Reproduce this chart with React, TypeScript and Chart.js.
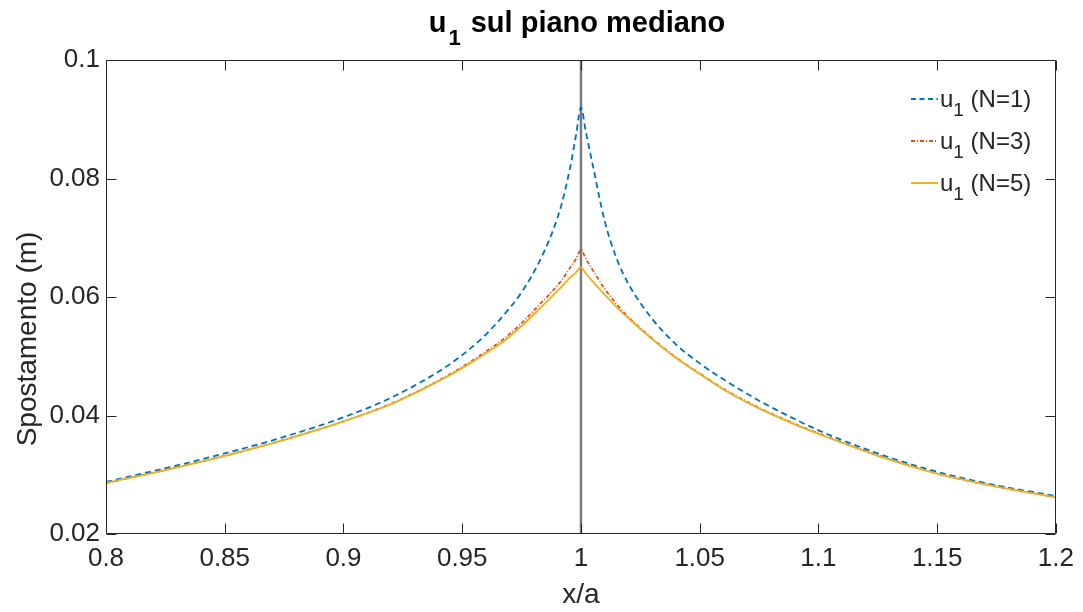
import React, { useEffect, useRef } from 'react';
import { Chart, registerables } from 'chart.js';

Chart.register(...registerables);

// ---- data ----
const xValues = [
  0.8, 0.825, 0.85, 0.875, 0.9, 0.92, 0.94, 0.95, 0.96, 0.968, 0.975, 0.982, 0.988, 0.992, 0.9955, 0.998, 1.0,
  1.002, 1.005, 1.01, 1.015, 1.02, 1.03, 1.04, 1.05, 1.06, 1.075, 1.09, 1.1, 1.125, 1.15, 1.175, 1.2,
];
const uN1 = [
  0.0288, 0.0311, 0.0336, 0.0364, 0.0397, 0.043, 0.0474, 0.0502, 0.0537, 0.0572, 0.0608, 0.0656, 0.071, 0.0759, 0.082, 0.0875, 0.092,
  0.088, 0.0822, 0.0728, 0.0665, 0.0622, 0.0563, 0.052, 0.0488, 0.0461, 0.0425, 0.0394, 0.0375, 0.0336, 0.0305, 0.0282, 0.0264,
];
const uN3 = [
  0.0286, 0.0308, 0.0332, 0.0359, 0.039, 0.042, 0.0459, 0.0482, 0.0508, 0.0531, 0.0556, 0.0585, 0.061, 0.0629, 0.065, 0.0665, 0.068,
  0.0665, 0.0645, 0.0614, 0.0588, 0.0566, 0.053, 0.0498, 0.0471, 0.0445, 0.0413, 0.0386, 0.037, 0.0333, 0.0302, 0.028, 0.0262,
];
const uN5 = [
  0.0286, 0.0308, 0.0332, 0.0359, 0.039, 0.0419, 0.0458, 0.048, 0.0505, 0.0527, 0.0551, 0.0578, 0.0602, 0.0618, 0.0633, 0.0642, 0.065,
  0.064, 0.0626, 0.0604, 0.0583, 0.0564, 0.0529, 0.0497, 0.047, 0.0444, 0.0412, 0.0385, 0.0369, 0.0332, 0.0302, 0.028, 0.0262,
];
const seriesNames = ['(N=1)', '(N=3)', '(N=5)'];
const seriesColors = ['#0072BD', '#D95319', '#EDB120'];
const xTickValues = [0.8, 0.85, 0.9, 0.95, 1, 1.05, 1.1, 1.15, 1.2];
const xTickLabels = ['0.8', '0.85', '0.9', '0.95', '1', '1.05', '1.1', '1.15', '1.2'];
const yTickValues = [0.02, 0.04, 0.06, 0.08, 0.1];
const yTickLabels = ['0.02', '0.04', '0.06', '0.08', '0.1'];
const markerX = [1, 1];
const markerY = [0.02, 0.1];
const yAxisTitle = 'Spostamento (m)';

const FONT = '"Liberation Sans", Arial, Helvetica, sans-serif';
const TXT = '#262626';

const decorPlugin = {
  id: 'decor',
  afterDatasetsDraw(chart: any) {
    const { ctx, chartArea } = chart;
    const { left, right, top, bottom } = chartArea;
    const L = Math.round(left) + 0.5;
    const R = Math.round(right) - 0.5;
    const T = Math.round(top) + 0.5;
    const B = Math.round(bottom) - 0.5;
    ctx.save();
    ctx.strokeStyle = TXT;
    ctx.lineWidth = 1;
    ctx.beginPath();
    ctx.rect(L, T, R - L, B - T);
    const tl = 10;
    chart.scales.x.ticks.forEach((t: any) => {
      const px = Math.round(chart.scales.x.getPixelForValue(t.value)) + 0.5;
      ctx.moveTo(px, B);
      ctx.lineTo(px, B - tl);
      ctx.moveTo(px, T);
      ctx.lineTo(px, T + tl);
    });
    chart.scales.y.ticks.forEach((t: any) => {
      const py = Math.round(chart.scales.y.getPixelForValue(t.value)) + 0.5;
      ctx.moveTo(L, py);
      ctx.lineTo(L + tl, py);
      ctx.moveTo(R, py);
      ctx.lineTo(R - tl, py);
    });
    ctx.stroke();
    ctx.restore();
  },
  afterDraw(chart: any) {
    const { ctx } = chart;
    ctx.save();
    ctx.fillStyle = '#000000';
    ctx.textBaseline = 'alphabetic';
    ctx.textAlign = 'left';
    // title
    const mainF = `bold 29px ${FONT}`;
    const subF = `bold 22px ${FONT}`;
    ctx.font = mainF;
    const wU = ctx.measureText('u').width;
    const wRest = ctx.measureText(' sul piano mediano').width;
    ctx.font = subF;
    const wSub = ctx.measureText('1').width;
    const total = wU + 2 + wSub + 2 + wRest;
    let x = 577 - total / 2;
    const base = 32;
    ctx.font = mainF;
    ctx.fillText('u', x, base);
    x += wU + 2;
    ctx.font = subF;
    ctx.fillText('1', x, base + 13);
    x += wSub + 2;
    ctx.font = mainF;
    ctx.fillText(' sul piano mediano', x, base);

    // y axis title
    ctx.save();
    ctx.fillStyle = TXT;
    ctx.font = `28px ${FONT}`;
    ctx.textAlign = 'center';
    ctx.textBaseline = 'middle';
    ctx.translate(28, 339);
    ctx.rotate(-Math.PI / 2);
    ctx.fillText(yAxisTitle, 0, 0);
    ctx.restore();

    // legend
    const lgF = `24px ${FONT}`;
    const lgSubF = `19px ${FONT}`;
    const rows = [107, 149, 191];
    const dashes = [[5, 3.5], [4, 2, 1, 2], []];
    ctx.fillStyle = TXT;
    rows.forEach((by, i) => {
      ctx.save();
      ctx.strokeStyle = seriesColors[i];
      ctx.lineWidth = 2;
      ctx.setLineDash(dashes[i]);
      ctx.beginPath();
      ctx.moveTo(911, by - 8);
      ctx.lineTo(938, by - 8);
      ctx.stroke();
      ctx.restore();
      let lx = 940;
      ctx.font = lgF;
      ctx.fillText('u', lx, by);
      lx += ctx.measureText('u').width;
      ctx.font = lgSubF;
      ctx.fillText('1', lx, by + 9);
      lx += ctx.measureText('1').width;
      ctx.font = lgF;
      ctx.fillText(' ' + seriesNames[i], lx, by);
    });
    ctx.restore();
  },
};

export default function App() {
  const ref = useRef<HTMLCanvasElement | null>(null);
  useEffect(() => {
    document.body.style.margin = '0';
    const pts = (ys: number[]) => xValues.map((x, i) => ({ x, y: ys[i] }));
    const common = {
      pointRadius: 0,
      fill: false,
      borderWidth: 1.8,
      cubicInterpolationMode: 'monotone' as const,
    };
    const chart = new Chart(ref.current as HTMLCanvasElement, {
      type: 'line',
      data: {
        datasets: [
          { ...common, label: 'u1 (N=5)', data: pts(uN5), borderColor: seriesColors[2], order: 0 },
          { ...common, label: 'u1 (N=3)', data: pts(uN3), borderColor: seriesColors[1], borderDash: [4, 2, 1, 2], order: 1 },
          { ...common, label: 'u1 (N=1)', data: pts(uN1), borderColor: seriesColors[0], borderDash: [6, 4], order: 2 },
          {
            label: 'x/a = 1',
            data: markerX.map((x, i) => ({ x, y: markerY[i] })),
            borderColor: '#7c7c7c',
            borderWidth: 2.5,
            pointRadius: 0,
            order: 3,
          },
        ],
      },
      options: {
        responsive: false,
        animation: false,
        layout: { autoPadding: false, padding: { top: 60, right: 24, left: 0, bottom: 0 } },
        plugins: { legend: { display: false }, title: { display: false }, tooltip: { enabled: false } },
        scales: {
          x: {
            type: 'linear',
            min: 0.8,
            max: 1.2,
            afterBuildTicks: (s: any) => {
              s.ticks = xTickValues.map((v) => ({ value: v }));
            },
            afterFit: (s: any) => {
              s.height = 78;
            },
            ticks: {
              callback: (_v: any, i: number) => xTickLabels[i],
              font: { family: FONT, size: 26 },
              color: TXT,
              padding: 9,
              maxRotation: 0,
              autoSkip: false,
            },
            grid: { display: false, drawTicks: false },
            border: { display: false },
            title: { display: true, text: 'x/a', font: { family: FONT, size: 28 }, color: TXT, padding: { top: 0, bottom: 0 } },
          },
          y: {
            type: 'linear',
            min: 0.02,
            max: 0.1,
            afterBuildTicks: (s: any) => {
              s.ticks = yTickValues.map((v) => ({ value: v }));
            },
            afterFit: (s: any) => {
              s.width = 106;
            },
            ticks: {
              callback: (_v: any, i: number) => yTickLabels[i],
              font: { family: FONT, size: 26 },
              color: TXT,
              padding: 6,
              autoSkip: false,
            },
            grid: { display: false, drawTicks: false },
            border: { display: false },
            title: { display: false },
          },
        },
      },
      plugins: [decorPlugin],
    } as any);
    return () => chart.destroy();
  }, []);
  return (
    <div style={{ width: 1083, height: 612, background: '#ffffff' }}>
      <canvas ref={ref} width={1083} height={612} style={{ display: 'block' }} />
    </div>
  );
}
